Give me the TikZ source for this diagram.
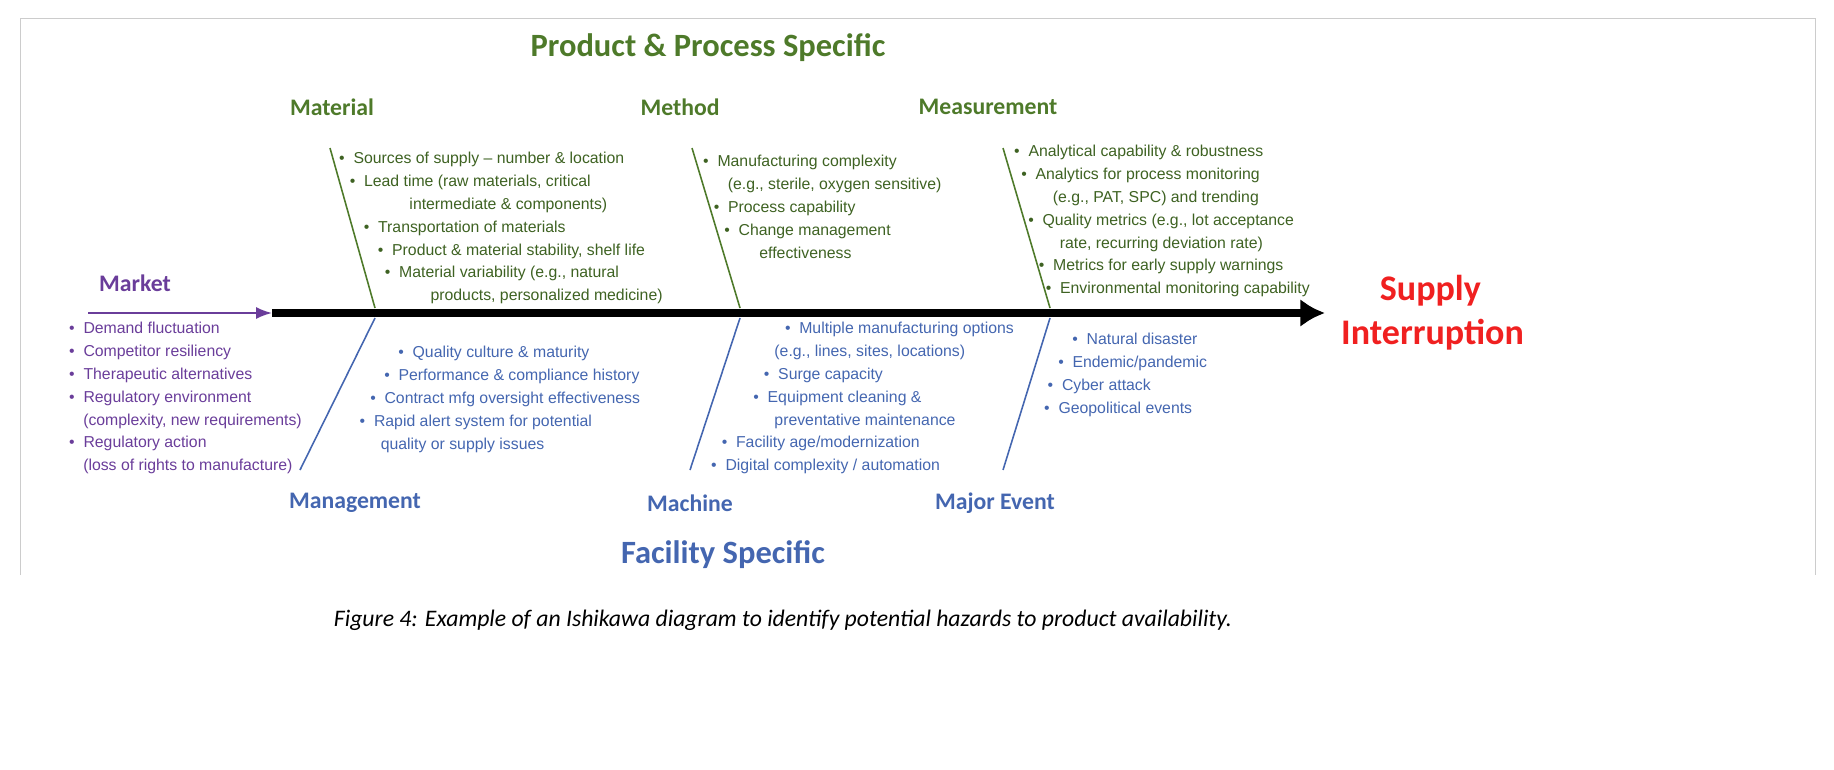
\documentclass[tikz,border=0pt]{standalone}
\usepackage{fontspec}
\setmainfont{Carlito}
\newfontfamily\bulletfont{Liberation Sans}
\usetikzlibrary{arrows.meta}
\definecolor{pgreen}{HTML}{4E7A2A}
\definecolor{fblue}{HTML}{4466B0}
\definecolor{mpurple}{HTML}{6A3D9A}
\definecolor{sred}{HTML}{F02020}
\tikzset{
  head/.style={font=\bfseries\fontsize{13.5}{16}\selectfont},
  items/.style={anchor=north west, align=left, font=\bulletfont\fontsize{9}{13}\selectfont},
  bone/.style={line width=0.9pt}
}
\newcommand{\bt}{\textbullet\ \ }
\begin{document}
\begin{tikzpicture}[x=0.02cm,y=-0.02cm]
\useasboundingbox (0,0) rectangle (1834,770);
\draw[gray!40] (20,575) -- (20,18) -- (1815,18) -- (1815,575);
%%%%%%%%%%%%%
\node[head, pgreen, font=\bfseries\fontsize{18.5}{22}\selectfont] (pps) at (708,48) {Product \& Process Specific};
\node[head, pgreen] (material) at (332,107) {Material};
\node[head, pgreen] (method) at (680,107) {Method};
\node[head, pgreen] (measure) at (988,107) {Measurement};
\node[head, fblue] (manage) at (355,503) {Management};
\node[head, fblue] (machine) at (690,503) {Machine};
\node[head, fblue] (major) at (995,503) {Major Event};
\node[head, fblue, font=\bfseries\fontsize{18.5}{22}\selectfont] (fs) at (723,555) {Facility Specific};
\node[head, mpurple] (market) at (135,283) {Market};
\node[head, sred, align=left, anchor=west, font=\bfseries\fontsize{20.5}{25}\selectfont] (supply) at (1335,313) {\hspace{22pt}Supply\\Interruption};
%%%%%%%%%%%%%
\coordinate (m0) at (88,313);
\coordinate (s0) at (272,313);
\coordinate (s1) at (1325,313);
\draw[mpurple, line width=1pt, -{Latex[length=9pt]}] (m0) -- (s0);
\draw[line width=4pt, -{Latex[length=14pt,width=16pt]}] (s0) -- (s1);
%%%%%%%%%%%%%
\coordinate (a1) at (330,148); \coordinate (a2) at (375,308);
\coordinate (b1) at (692,148); \coordinate (b2) at (740,308);
\coordinate (c1) at (1003,148); \coordinate (c2) at (1050,308);
\draw[bone, pgreen] (a1) -- (a2);
\draw[bone, pgreen] (b1) -- (b2);
\draw[bone, pgreen] (c1) -- (c2);
\coordinate (d1) at (375,318); \coordinate (d2) at (300,470);
\coordinate (e1) at (740,318); \coordinate (e2) at (690,470);
\coordinate (f1) at (1050,318); \coordinate (f2) at (1003,470);
\draw[bone, fblue] (d1) -- (d2);
\draw[bone, fblue] (e1) -- (e2);
\draw[bone, fblue] (f1) -- (f2);
%%%%%%%%%%%%%
\node[items, pgreen!80!black] (matlist) at (333,146) {%
\bt Sources of supply \textendash{} number \& location\\
\hspace{6pt}\bt Lead time (raw materials, critical\\
\hspace{40pt}intermediate \& components)\\
\hspace{14pt}\bt Transportation of materials\\
\hspace{22pt}\bt Product \& material stability, shelf life\\
\hspace{26pt}\bt Material variability (e.g., natural\\
\hspace{52pt}products, personalized medicine)};
\node[items, pgreen!80!black] (methlist) at (697,149) {%
\bt Manufacturing complexity\\
\hspace{14pt}(e.g., sterile, oxygen sensitive)\\
\hspace{6pt}\bt Process capability\\
\hspace{12pt}\bt Change management\\
\hspace{32pt}effectiveness};
\node[items, pgreen!80!black] (measlist) at (1008,139) {%
\bt Analytical capability \& robustness\\
\hspace{4pt}\bt Analytics for process monitoring\\
\hspace{22pt}(e.g., PAT, SPC) and trending\\
\hspace{8pt}\bt Quality metrics (e.g., lot acceptance\\
\hspace{26pt}rate, recurring deviation rate)\\
\hspace{14pt}\bt Metrics for early supply warnings\\
\hspace{18pt}\bt Environmental monitoring capability};
\node[items, mpurple] (marklist) at (63,316) {%
\bt Demand fluctuation\\
\bt Competitor resiliency\\
\bt Therapeutic alternatives\\
\bt Regulatory environment\\
\hspace{8pt}(complexity, new requirements)\\
\bt Regulatory action\\
\hspace{8pt}(loss of rights to manufacture)};
\node[items, fblue] (manlist) at (350,340) {%
\hspace{24pt}\bt Quality culture \& maturity\\
\hspace{16pt}\bt Performance \& compliance history\\
\hspace{8pt}\bt Contract mfg oversight effectiveness\\
\hspace{2pt}\bt Rapid alert system for potential\\
\hspace{14pt}quality or supply issues};
\node[items, fblue] (machlist) at (705,316) {%
\hspace{42pt}\bt Multiple manufacturing options\\
\hspace{36pt}(e.g., lines, sites, locations)\\
\hspace{30pt}\bt Surge capacity\\
\hspace{24pt}\bt Equipment cleaning \&\\
\hspace{36pt}preventative maintenance\\
\hspace{6pt}\bt Facility age/modernization\\
\bt Digital complexity / automation};
\node[items, fblue] (majlist) at (1038,327) {%
\hspace{16pt}\bt Natural disaster\\
\hspace{8pt}\bt Endemic/pandemic\\
\hspace{2pt}\bt Cyber attack\\
\bt Geopolitical events};
%%%%%%%%%%%%%
\node[font=\itshape\fontsize{13.5}{16}\selectfont] (caption) at (783,620) {Figure 4: Example of an Ishikawa diagram to identify potential hazards to product availability.};
\end{tikzpicture}
\end{document}
